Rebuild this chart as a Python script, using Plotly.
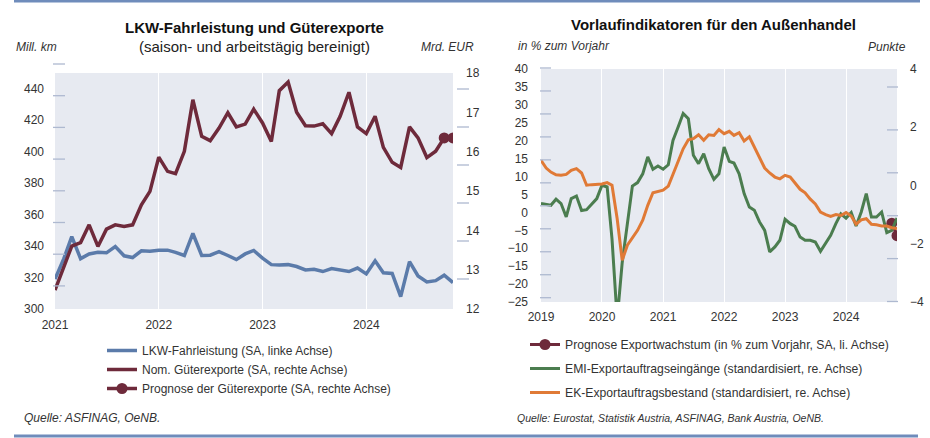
import pandas as pd
import plotly.graph_objects as go

W, H = 930, 438

# ---------------- data ----------------
months_left = pd.date_range("2021-01-01", periods=47, freq="MS")
lkw_fahrleistung = [319, 332, 346, 332, 335, 336, 335.7, 339.7, 333.8, 332.7, 337, 336.7,
                    337.4, 337.4, 336, 334, 348, 334, 334.2, 336.5, 334, 331.4, 335, 337.2,
                    332.3, 328.2, 328, 328.2, 327, 324.8, 325.2, 323.8, 325.7, 324.5, 323.8, 326,
                    322.3, 330.6, 323, 322.6, 307.9, 330.1, 321, 317.2, 318, 321.5, 316.8]
gueterexporte = [12.48, 13.04, 13.6, 13.69, 14.14, 13.59, 14.03, 14.14, 14.10, 14.14, 14.65, 14.99,
                 15.86, 15.50, 15.44, 16.01, 17.32, 16.39, 16.28, 16.60, 16.99, 16.63, 16.70, 17.08,
                 16.73, 16.26, 17.55, 17.77, 17.0, 16.66, 16.65, 16.71, 16.46, 16.90, 17.51, 16.63,
                 16.46, 16.90, 16.11, 15.73, 15.60, 16.63, 16.35, 15.85, 16.01, 16.35]
prognose_exporte_x = ["2024-10-01", "2024-11-01"]
prognose_exporte = [16.35, 16.35]

months_right = pd.date_range("2019-01-01", periods=71, freq="MS")
emi_export = [-0.62, -0.66, -0.68, -0.47, -0.62, -1.08, -0.45, -0.36, -0.86, -0.83, -0.62, -0.45,
              0.01, -0.05, -1.83, -4.6, -2.65, -1.3, -0.02, 0.10, 0.40, 0.98, 0.56, 0.67,
              0.56, 0.71, 1.55, 2.01, 2.47, 2.29, 1.04, 0.75, 1.09, 0.58, 0.21, 0.40,
              1.32, 0.83, 0.77, 0.40, -0.28, -0.74, -0.85, -1.25, -1.54, -2.28, -2.11, -1.88,
              -1.16, -1.31, -1.40, -1.77, -1.88, -1.88, -1.94, -2.26, -2.00, -1.71, -1.31, -0.97,
              -1.12, -0.93, -1.39, -0.91, -0.28, -1.08, -1.08, -0.91, -1.62, -1.54, -1.12]
ek_export = [0.865, 0.60, 0.46, 0.37, 0.35, 0.38, 0.52, 0.58, 0.43, 0.01, 0.03, 0.04,
             0.05, 0.10, 0.01, -1.14, -2.57, -2.05, -1.82, -1.54, -1.19, -0.68, -0.25, -0.20,
             -0.16, -0.02, 0.40, 0.87, 1.26, 1.57, 1.61, 1.74, 1.55, 1.74, 1.72, 1.92,
             1.78, 1.86, 1.72, 1.81, 1.53, 1.67, 1.32, 0.92, 0.60, 0.43, 0.29, 0.23,
             0.35, 0.29, 0.10, -0.13, -0.25, -0.47, -0.63, -0.91, -1.00, -1.06, -1.00, -1.03,
             -0.93, -1.05, -1.33, -1.18, -1.14, -1.33, -1.35, -1.39, -1.39, -1.45, -1.48]
prognose_wachstum_x = ["2024-10-01", "2024-11-01"]
prognose_wachstum = [-3.0, -6.5]

years_left = ["2021", "2022", "2023", "2024"]
years_right = ["2019", "2020", "2021", "2022", "2023", "2024"]

# ---------------- style ----------------
BLUE = "#5B7BAA"
MAROON = "#6E2A3B"
GREEN = "#4B7D4F"
ORANGE = "#E07A36"
BG = "#E7EAF1"
TXT = "#333333"
FONT = "Liberation Sans, Arial, sans-serif"
NARROW = "Liberation Sans Narrow, Arial Narrow, Liberation Sans, sans-serif"


def px_x(x):
    return x / W


def px_y(y):
    return 1 - y / H


fig = go.Figure()

fig.add_trace(go.Scatter(x=months_left, y=lkw_fahrleistung, mode="lines",
                         name="LKW-Fahrleistung (SA, linke Achse)",
                         line=dict(color=BLUE, width=3.5), xaxis="x", yaxis="y",
                         legend="legend", legendgroup="a"))
fig.add_trace(go.Scatter(x=months_left[:len(gueterexporte)], y=gueterexporte, mode="lines",
                         name="Nom. Güterexporte (SA, rechte Achse)",
                         line=dict(color=MAROON, width=3.5), xaxis="x", yaxis="y2",
                         legend="legend", legendgroup="b"))
fig.add_trace(go.Scatter(x=prognose_exporte_x, y=prognose_exporte, mode="lines+markers",
                         name="Prognose der Güterexporte (SA, rechte Achse)",
                         line=dict(color=MAROON, width=3.5), marker=dict(size=11, color=MAROON),
                         xaxis="x", yaxis="y2", legend="legend", legendgroup="c"))

fig.add_trace(go.Scatter(x=prognose_wachstum_x, y=prognose_wachstum, mode="lines+markers",
                         name="Prognose Exportwachstum (in % zum Vorjahr, SA, li. Achse)",
                         line=dict(color=MAROON, width=3), marker=dict(size=11, color=MAROON),
                         xaxis="x2", yaxis="y3", legend="legend2", legendgroup="d"))
fig.add_trace(go.Scatter(x=months_right, y=emi_export, mode="lines",
                         name="EMI-Exportauftragseingänge (standardisiert, re. Achse)",
                         line=dict(color=GREEN, width=3), xaxis="x2", yaxis="y4",
                         legend="legend2", legendgroup="e"))
fig.add_trace(go.Scatter(x=months_right, y=ek_export, mode="lines",
                         name="EK-Exportauftragsbestand (standardisiert, re. Achse)",
                         line=dict(color=ORANGE, width=3), xaxis="x2", yaxis="y4",
                         legend="legend2", legendgroup="f"))

tickfont = dict(family=FONT, size=12, color=TXT)
common_x = dict(type="date", showgrid=True, gridcolor="white", gridwidth=1.2,
                ticks="", showline=False, zeroline=False, tickfont=tickfont, automargin=False)
common_y = dict(showgrid=False, zeroline=False, ticks="", showline=False, tickfont=tickfont,
                automargin=False)

fig.update_layout(
    width=W, height=H,
    margin=dict(l=0, r=0, t=0, b=0, autoexpand=False),
    paper_bgcolor="white", plot_bgcolor=BG,
    showlegend=True,
    xaxis=dict(common_x, domain=[px_x(55), px_x(453)], anchor="y",
               range=["2021-01-01", "2024-11-01"], ticklabelstandoff=7,
               tickvals=[f"{y}-01-01" for y in years_left], ticktext=years_left),
    yaxis=dict(common_y, domain=[px_y(309), px_y(73)], range=[300, 450],
               tickvals=list(range(300, 450, 20)), ticklabelstandoff=10),
    yaxis2=dict(common_y, overlaying="y", side="right", anchor="x", range=[12, 18],
                tickvals=list(range(12, 19)), ticklabelstandoff=12),
    xaxis2=dict(common_x, domain=[px_x(541), px_x(897)], anchor="y3",
                range=["2019-01-01", "2024-11-01"], ticklabelstandoff=6,
                tickvals=[f"{y}-01-01" for y in years_right], ticktext=years_right),
    yaxis3=dict(common_y, domain=[px_y(302), px_y(69)], anchor="x2", range=[-25, 40],
                tickvals=list(range(-25, 41, 5)), ticklabelstandoff=12),
    yaxis4=dict(common_y, overlaying="y3", side="right", anchor="x2", range=[-4, 4],
                tickvals=[-4, -2, 0, 2, 4], ticklabelstandoff=12),
    legend=dict(x=px_x(102), y=px_y(336), xanchor="left", yanchor="top",
                bgcolor="rgba(0,0,0,0)", font=dict(family=FONT, size=12, color=TXT),
                traceorder="grouped", tracegroupgap=0, itemwidth=30),
    legend2=dict(x=px_x(525), y=px_y(330), xanchor="left", yanchor="top",
                 bgcolor="rgba(0,0,0,0)", font=dict(family=FONT, size=12.2, color=TXT),
                 traceorder="grouped", tracegroupgap=5, itemwidth=30),
)

shapes = []
# frame lines top and bottom
shapes.append(dict(type="line", xref="paper", yref="paper", x0=px_x(14), x1=px_x(920),
                   y0=px_y(1), y1=px_y(1), line=dict(color="#6F8CBB", width=3)))
shapes.append(dict(type="line", xref="paper", yref="paper", x0=px_x(14), x1=px_x(918),
                   y0=px_y(436), y1=px_y(436), line=dict(color="#6F8CBB", width=3)))


def deco_ticks(x0, x1, ystart, ystep, n, color="#AEB9D0"):
    for k in range(n):
        yy = ystart + k * ystep
        shapes.append(dict(type="line", xref="paper", yref="paper",
                           x0=px_x(x0), x1=px_x(x1), y0=px_y(yy), y1=px_y(yy),
                           line=dict(color=color, width=1.3)))


deco_ticks(53, 65, 64, 31.7, 8)
deco_ticks(457, 469, 89, 38.0, 6)
deco_ticks(540, 551, 68, 22.97, 11)
deco_ticks(887, 898, 87, 42.9, 6)
fig.update_layout(shapes=shapes)

ann = []


def text(x, y, s, size=12, bold=False, italic=False, anchor="left", family=FONT, color=TXT):
    if bold:
        s = f"<b>{s}</b>"
    if italic:
        s = f"<i>{s}</i>"
    ann.append(dict(x=px_x(x), y=px_y(y), xref="paper", yref="paper", text=s,
                    showarrow=False, xanchor=anchor, yanchor="middle",
                    font=dict(family=family, size=size, color=color)))


text(255, 27, "LKW-Fahrleistung und Güterexporte", size=15, bold=True, anchor="center", color="#111111")
text(255, 46, "(saison- und arbeitstägig bereinigt)", size=15, anchor="center", color="#222222")
text(14, 47, "Mill. km", size=12, italic=True)
text(476, 47, "Mrd. EUR", size=12, italic=True, anchor="right")
text(713, 25, "Vorlaufindikatoren für den Außenhandel", size=15, bold=True, anchor="center", color="#111111")
text(516, 46, "in % zum Vorjahr", size=12, italic=True)
text(908, 47, "Punkte", size=12, italic=True, anchor="right")
text(22, 418, "Quelle: ASFINAG, OeNB.", size=12, italic=True, family=NARROW)
text(515, 418, "Quelle: Eurostat, Statistik Austria, ASFINAG, Bank Austria, OeNB.", size=10.5,
     italic=True, family=NARROW)
fig.update_layout(annotations=ann)

fig.write_html("out.html", config={"displayModeBar": False},
               post_script="document.body.style.margin='0';document.body.style.overflow='hidden';")
